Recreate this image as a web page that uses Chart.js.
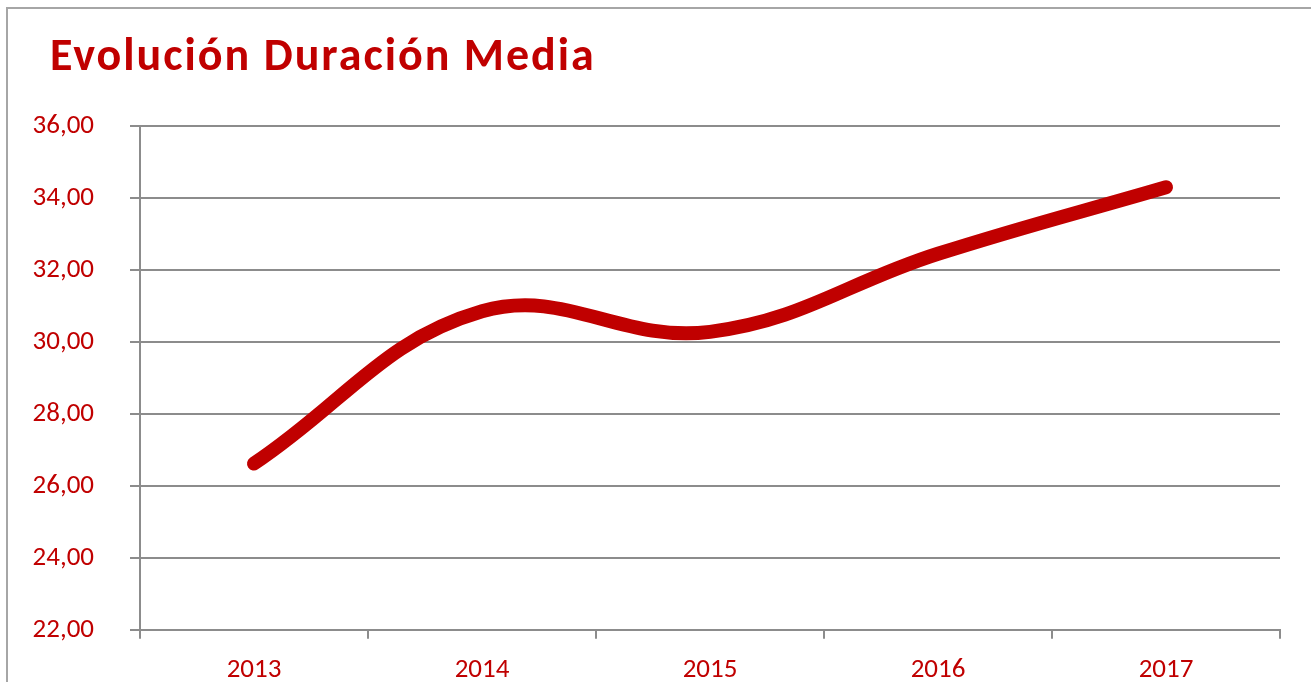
<!DOCTYPE html>
<html lang="es">
<head>
<meta charset="utf-8">
<title>Evolución Duración Media</title>
<script src="https://cdn.jsdelivr.net/npm/chart.js@4"></script>
<style>
    html, body { margin: 0; padding: 0; background: #fff; overflow: hidden; }
    .stage { position: relative; width: 1311px; height: 682px; }
    .frame {
        position: absolute; left: 6px; top: 7px; width: 1340px; height: 720px;
        border: 2px solid #a6a6a6; box-sizing: border-box;
    }
    .chart-title {
        position: absolute; left: 50px; top: 27px; margin: 0;
        font-family: Carlito, Lato, "Open Sans", sans-serif;
        font-weight: bold; font-size: 46px; letter-spacing: 2px;
        color: #c00000; white-space: nowrap; line-height: 1.2;
    }
    #durationChart { position: absolute; left: 0; top: 0; }
</style>
</head>
<body>
<div class="stage">
    <div class="frame"></div>
    <canvas id="durationChart" width="1311" height="682"></canvas>
    <h1 class="chart-title">Evolución Duración Media</h1>
</div>
<script>
// Data
const years = ['2013', '2014', '2015', '2016', '2017'];
const avgDuration = [26.62, 30.85, 30.28, 32.45, 34.30];
const yMin = 22;
const yMax = 36;
const yStep = 2;

const RED = '#c00000';
const GRID = '#8c8c8c';
const labelFont = { family: 'Carlito, Lato, "Open Sans", sans-serif', size: 27 };

const ctx = document.getElementById('durationChart').getContext('2d');

new Chart(ctx, {
    type: 'line',
    data: {
        labels: years,
        datasets: [{
            label: 'Duración media',
            data: avgDuration,
            borderColor: RED,
            borderWidth: 14,
            borderCapStyle: 'round',
            borderJoinStyle: 'round',
            tension: 0.4,
            pointRadius: 0,
            fill: false
        }]
    },
    options: {
        responsive: false,
        animation: false,
        layout: { padding: { top: 126, right: 31, left: 0, bottom: 0 } },
        plugins: { legend: { display: false }, tooltip: { enabled: false } },
        scales: {
            x: {
                offset: true,
                grid: { drawOnChartArea: false, drawTicks: true, tickLength: 9, color: GRID, lineWidth: 2, offset: true },
                border: { display: true, color: GRID, width: 2 },
                ticks: { color: RED, font: labelFont, padding: 15, maxRotation: 0 },
                afterFit: scale => { scale.height = 51; }
            },
            y: {
                min: yMin,
                max: yMax,
                grid: { color: GRID, lineWidth: 2, tickLength: 10 },
                border: { display: true, color: GRID, width: 2 },
                ticks: {
                    stepSize: yStep,
                    color: RED,
                    font: labelFont,
                    padding: 36,
                    callback: v => v.toFixed(2).replace('.', ',')
                },
                afterFit: scale => { scale.width = 140; }
            }
        }
    }
});
</script>
</body>
</html>
